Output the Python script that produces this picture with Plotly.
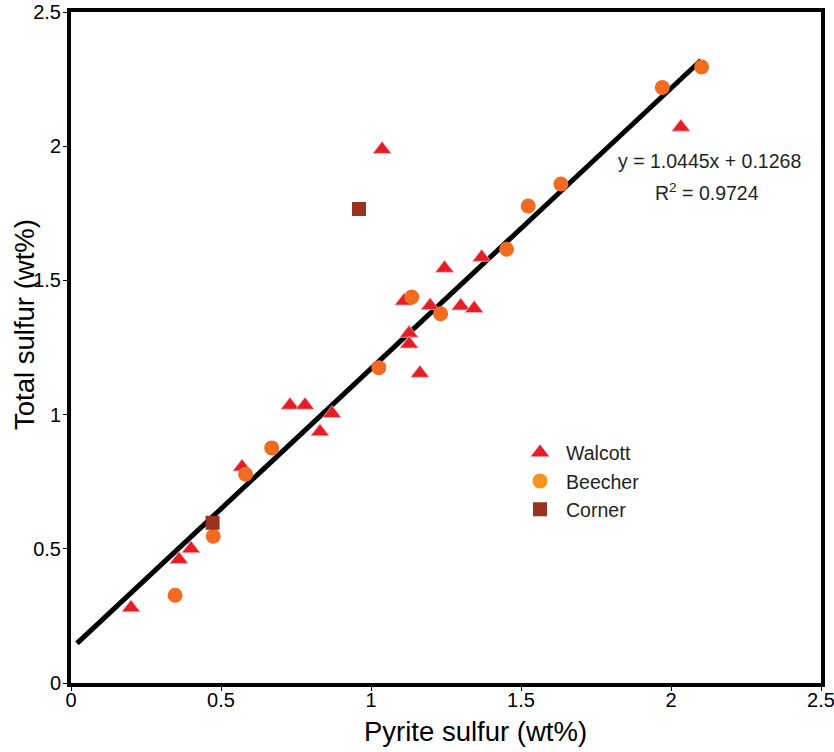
import plotly.graph_objects as go

# Data
walcott_x = [0.20, 0.36, 0.40, 0.57, 0.73, 0.78, 0.87, 0.83, 1.037, 1.245, 1.369, 1.11, 1.197, 1.299, 1.344, 1.127, 1.127, 1.163, 2.033]
walcott_y = [0.28, 0.46, 0.50, 0.805, 1.035, 1.035, 1.004, 0.936, 1.988, 1.545, 1.586, 1.423, 1.406, 1.405, 1.395, 1.303, 1.263, 1.154, 2.071]

beecher_x = [0.347, 0.474, 0.582, 0.669, 1.026, 1.136, 1.232, 1.452, 1.524, 1.633, 1.971, 2.102]
beecher_y = [0.327, 0.547, 0.778, 0.876, 1.175, 1.438, 1.376, 1.616, 1.777, 1.859, 2.219, 2.295]

corner_x = [0.472, 0.96]
corner_y = [0.597, 1.766]

slope = 1.0445
intercept = 0.1268
fit_x = [0.02, 2.10]
fit_y = [slope * v + intercept for v in fit_x]

ticks = [0, 0.5, 1, 1.5, 2, 2.5]
tick_labels = ["0", "0.5", "1", "1.5", "2", "2.5"]

x_title = "Pyrite sulfur (wt%)"
y_title = "Total sulfur (wt%)"

FONT = "Liberation Sans, Arial, sans-serif"

fig = go.Figure()

fig.add_trace(go.Scatter(x=fit_x, y=fit_y, mode="lines",
                         line=dict(color="black", width=5), showlegend=False, hoverinfo="skip"))

fig.add_trace(go.Scatter(x=walcott_x, y=walcott_y, mode="markers", showlegend=False,
                         marker=dict(symbol="triangle-up", size=16, color="#E31E26",
                                     line=dict(color="#F5B5B5", width=0.8))))
fig.add_trace(go.Scatter(x=beecher_x, y=beecher_y, mode="markers", showlegend=False,
                         marker=dict(symbol="circle", size=15, color="#F26B21",
                                     line=dict(width=0))))
fig.add_trace(go.Scatter(x=corner_x, y=corner_y, mode="markers", showlegend=False,
                         marker=dict(symbol="square", size=14, color="#97331F",
                                     line=dict(width=0))))

# legend entries
fig.add_trace(go.Scatter(x=[None], y=[None], mode="markers", name="Walcott",
                         marker=dict(symbol="triangle-up", size=16, color="#E31E26")))
fig.add_trace(go.Scatter(x=[None], y=[None], mode="markers", name="Beecher",
                         marker=dict(symbol="circle", size=15, color="#F7941D")))
fig.add_trace(go.Scatter(x=[None], y=[None], mode="markers", name="Corner",
                         marker=dict(symbol="square", size=14, color="#97331F")))

fig.add_annotation(x=2.128, y=1.945, text="y = 1.0445x + 0.1268", showarrow=False,
                   xref="x", yref="y", font=dict(size=19.5, color="#231F20", family=FONT))
fig.add_annotation(x=2.12, y=1.83, text="R<sup>2</sup> = 0.9724", showarrow=False,
                   xref="x", yref="y", font=dict(size=19.5, color="#231F20", family=FONT))

# axis titles (offset as in the reference)
fig.add_annotation(x=0.539, y=-0.073, xref="paper", yref="paper", text=x_title,
                   showarrow=False, xanchor="center", yanchor="middle",
                   font=dict(size=27.5, family=FONT, color="black"))
fig.add_annotation(x=-0.0627, y=0.535, xref="paper", yref="paper", text=y_title,
                   showarrow=False, xanchor="center", yanchor="middle", textangle=-90,
                   font=dict(size=27.5, family=FONT, color="black"))

axis_common = dict(
    range=[0, 2.5], tickvals=ticks, ticktext=tick_labels,
    showline=True, linewidth=4, linecolor="black", mirror=True,
    ticks="outside", ticklen=4, tickwidth=1, tickcolor="black",
    showgrid=False, zeroline=False, automargin=False,
    ticklabeloverflow="allow",
    tickfont=dict(size=20, color="black", family=FONT),
)

fig.update_layout(
    width=834, height=752,
    margin=dict(l=71, r=13, t=12, b=69),
    paper_bgcolor="white", plot_bgcolor="white",
    font=dict(family=FONT, color="black"),
    xaxis=dict(**axis_common, ticklabelstandoff=-8),
    yaxis=dict(**axis_common, ticklabelstandoff=-2),
    legend=dict(x=0.5907, y=0.372, xanchor="left", yanchor="top", bgcolor="rgba(0,0,0,0)",
                font=dict(size=19.5, family=FONT, color="#231F20"), itemsizing="trace",
                itemwidth=42, tracegroupgap=4),
    showlegend=True,
)

fig.write_html("out.html")
